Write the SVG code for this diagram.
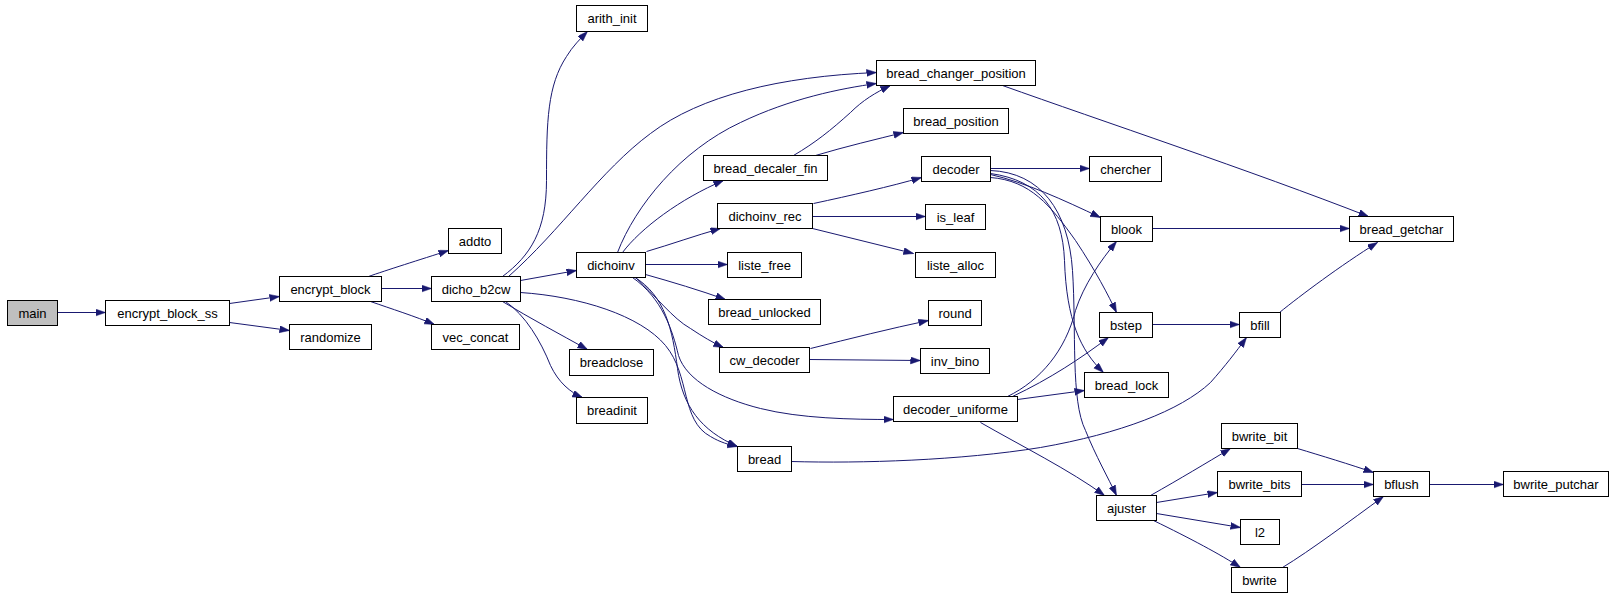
<svg xmlns="http://www.w3.org/2000/svg" width="1613" height="596" viewBox="0 0 1613 596">
<style>
.n rect{fill:#fff;stroke:#000;stroke-width:1}
#main rect{fill:#bfbfbf}
.n text{font-family:"Liberation Sans",Arial,sans-serif;font-size:13px;fill:#000;text-anchor:middle}
.e path{fill:none;stroke:#191970;stroke-width:1;marker-end:url(#a)}
</style>
<defs>
<marker id="a" markerUnits="userSpaceOnUse" markerWidth="11" markerHeight="8" refX="10" refY="3.5" orient="auto">
<path d="M0,0 L10,3.5 L0,7 z" fill="#191970" stroke="#191970" stroke-width="0.5"/>
</marker>
</defs>
<rect width="1613" height="596" fill="#fff"/>
<g transform="translate(0.5,0.5)">
<g id="connectors" class="e">
<path d="M57,312 L105,312"/>
<path d="M229,303 L279,296"/>
<path d="M229,322 L289,330"/>
<path d="M368,276 C385,270 420,259 448,250"/>
<path d="M381,288 L431,288"/>
<path d="M370,301 C390,308 415,316 434,324"/>
<path d="M502,276 C530,255 546,230 546,180 C546,120 547,85 566,56 C572,46 580,38 587,31"/>
<path d="M508,276 C560,230 600,170 650,133 C700,95 780,76 876,72"/>
<path d="M617,252 C635,205 680,150 740,122 C790,98 840,88 876,83"/>
<path d="M622,252 C640,228 680,198 723,180"/>
<path d="M793,155 C815,142 830,130 850,112 C862,100 875,92 890,85"/>
<path d="M815,155 C845,146 875,139 903,132"/>
<path d="M520,280 L576,270"/>
<path d="M502,301 C530,318 560,334 587,349"/>
<path d="M505,301 C525,315 540,340 550,365 C558,382 570,392 582,397"/>
<path d="M520,292 C580,296 640,315 665,345 C690,375 680,420 710,436 C720,442 728,444 737,446"/>
<path d="M633,276 C665,295 672,330 677,368 C682,405 700,430 737,446"/>
<path d="M632,277 C662,298 672,330 678,355 C686,380 720,398 760,408 C800,418 850,419 893,419"/>
<path d="M646,251 C670,244 695,235 720,228"/>
<path d="M645,264 L727,264"/>
<path d="M645,274 C670,281 700,290 725,299"/>
<path d="M635,277 C655,295 672,318 690,328 C702,336 712,342 723,347"/>
<path d="M813,203 C850,195 890,186 921,177"/>
<path d="M812,216 L925,216"/>
<path d="M812,228 L913,253"/>
<path d="M810,348 C850,338 890,328 928,320"/>
<path d="M809,359 L920,360"/>
<path d="M990,168 L1089,168"/>
<path d="M990,174 C1025,182 1062,199 1100,217"/>
<path d="M990,177 C1030,180 1050,205 1075,240 C1095,270 1108,295 1116,312"/>
<path d="M990,173 C1040,180 1062,210 1064,260 C1066,320 1080,350 1103,372"/>
<path d="M990,170 C1040,172 1068,210 1072,270 C1076,330 1070,400 1085,430 C1095,455 1108,478 1116,495"/>
<path d="M1007,396 C1040,380 1065,350 1075,310 C1083,285 1100,260 1116,241"/>
<path d="M1012,396 C1050,378 1080,358 1108,337"/>
<path d="M1017,399 L1084,390"/>
<path d="M980,422 C1020,445 1070,470 1104,495"/>
<path d="M1002,85 C1100,120 1250,170 1368,216"/>
<path d="M1152,228 L1349,228"/>
<path d="M1152,324 L1239,324"/>
<path d="M1279,312 C1300,295 1340,265 1377,242"/>
<path d="M791,461 C860,463 960,460 1040,447 C1120,433 1180,410 1210,382 C1225,365 1235,352 1246,337"/>
<path d="M1150,495 C1180,478 1205,463 1230,448"/>
<path d="M1156,502 L1217,492"/>
<path d="M1156,513 L1240,527"/>
<path d="M1153,520 C1190,538 1220,554 1240,567"/>
<path d="M1297,448 C1320,455 1350,464 1373,472"/>
<path d="M1301,484 L1373,484"/>
<path d="M1282,567 C1310,550 1350,520 1383,496"/>
<path d="M1429,484 L1503,484"/>
</g>
<g id="main" class="n"><rect x="7" y="300" width="50" height="25"/><text x="32" y="317">main</text></g>
<g id="encrypt_block_ss" class="n"><rect x="105" y="300" width="124" height="25"/><text x="167" y="317">encrypt_block_ss</text></g>
<g id="encrypt_block" class="n"><rect x="279" y="276" width="102" height="25"/><text x="330" y="293">encrypt_block</text></g>
<g id="randomize" class="n"><rect x="289" y="324" width="82" height="25"/><text x="330" y="341">randomize</text></g>
<g id="addto" class="n"><rect x="448" y="228" width="53" height="25"/><text x="474.5" y="245">addto</text></g>
<g id="dicho_b2cw" class="n"><rect x="431" y="276" width="89" height="25"/><text x="475.5" y="293">dicho_b2cw</text></g>
<g id="vec_concat" class="n"><rect x="431" y="324" width="88" height="25"/><text x="475" y="341">vec_concat</text></g>
<g id="arith_init" class="n"><rect x="576" y="5" width="71" height="26"/><text x="611.5" y="22.5">arith_init</text></g>
<g id="dichoinv" class="n"><rect x="576" y="252" width="69" height="25"/><text x="610.5" y="269">dichoinv</text></g>
<g id="breadclose" class="n"><rect x="569" y="349" width="84" height="26"/><text x="611" y="366.5">breadclose</text></g>
<g id="breadinit" class="n"><rect x="576" y="397" width="71" height="26"/><text x="611.5" y="414.5">breadinit</text></g>
<g id="bread_decaler_fin" class="n"><rect x="703" y="155" width="124" height="25"/><text x="765" y="172">bread_decaler_fin</text></g>
<g id="dichoinv_rec" class="n"><rect x="717" y="203" width="95" height="25"/><text x="764.5" y="220">dichoinv_rec</text></g>
<g id="liste_free" class="n"><rect x="727" y="252" width="74" height="25"/><text x="764" y="269">liste_free</text></g>
<g id="bread_unlocked" class="n"><rect x="708" y="299" width="112" height="25"/><text x="764" y="316">bread_unlocked</text></g>
<g id="cw_decoder" class="n"><rect x="719" y="347" width="90" height="25"/><text x="764" y="364">cw_decoder</text></g>
<g id="bread" class="n"><rect x="737" y="446" width="54" height="25"/><text x="764" y="463">bread</text></g>
<g id="bread_changer_position" class="n"><rect x="876" y="60" width="159" height="25"/><text x="955.5" y="77">bread_changer_position</text></g>
<g id="bread_position" class="n"><rect x="903" y="108" width="105" height="25"/><text x="955.5" y="125">bread_position</text></g>
<g id="decoder" class="n"><rect x="921" y="156" width="69" height="25"/><text x="955.5" y="173">decoder</text></g>
<g id="is_leaf" class="n"><rect x="925" y="204" width="60" height="25"/><text x="955" y="221">is_leaf</text></g>
<g id="liste_alloc" class="n"><rect x="915" y="252" width="80" height="25"/><text x="955" y="269">liste_alloc</text></g>
<g id="round" class="n"><rect x="928" y="300" width="53" height="25"/><text x="954.5" y="317">round</text></g>
<g id="inv_bino" class="n"><rect x="920" y="348" width="69" height="25"/><text x="954.5" y="365">inv_bino</text></g>
<g id="decoder_uniforme" class="n"><rect x="893" y="396" width="124" height="25"/><text x="955" y="413">decoder_uniforme</text></g>
<g id="chercher" class="n"><rect x="1089" y="156" width="72" height="25"/><text x="1125" y="173">chercher</text></g>
<g id="blook" class="n"><rect x="1100" y="216" width="52" height="25"/><text x="1126" y="233">blook</text></g>
<g id="bstep" class="n"><rect x="1099" y="312" width="53" height="25"/><text x="1125.5" y="329">bstep</text></g>
<g id="bread_lock" class="n"><rect x="1084" y="372" width="84" height="25"/><text x="1126" y="389">bread_lock</text></g>
<g id="ajuster" class="n"><rect x="1096" y="495" width="60" height="25"/><text x="1126" y="512">ajuster</text></g>
<g id="bread_getchar" class="n"><rect x="1349" y="216" width="104" height="25"/><text x="1401" y="233">bread_getchar</text></g>
<g id="bfill" class="n"><rect x="1239" y="312" width="41" height="25"/><text x="1259.5" y="329">bfill</text></g>
<g id="bwrite_bit" class="n"><rect x="1221" y="423" width="76" height="25"/><text x="1259" y="440">bwrite_bit</text></g>
<g id="bwrite_bits" class="n"><rect x="1217" y="471" width="84" height="25"/><text x="1259" y="488">bwrite_bits</text></g>
<g id="l2" class="n"><rect x="1240" y="519" width="39" height="25"/><text x="1259.5" y="536">l2</text></g>
<g id="bwrite" class="n"><rect x="1231" y="567" width="56" height="25"/><text x="1259" y="584">bwrite</text></g>
<g id="bflush" class="n"><rect x="1373" y="471" width="56" height="25"/><text x="1401" y="488">bflush</text></g>
<g id="bwrite_putchar" class="n"><rect x="1503" y="471" width="105" height="25"/><text x="1555.5" y="488">bwrite_putchar</text></g>
</g>
</svg>
